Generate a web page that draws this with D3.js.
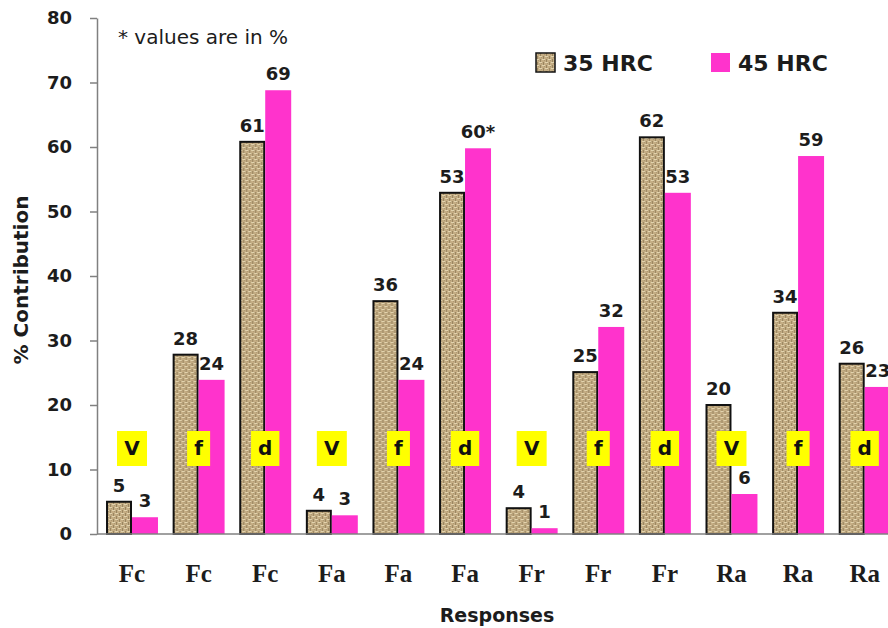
<!DOCTYPE html>
<html>
<head>
<meta charset="utf-8">
<script src="https://cdn.jsdelivr.net/npm/d3@7"></script>
<style>
  body { margin: 0; background: #fff; }
  svg { display: block; }
</style>
</head>
<body>
<div id="chart"></div>
<script>
// Datos
const responses = ['Fc', 'Fc', 'Fc', 'Fa', 'Fa', 'Fa', 'Fr', 'Fr', 'Fr', 'Ra', 'Ra', 'Ra']
const factors = ['V', 'f', 'd', 'V', 'f', 'd', 'V', 'f', 'd', 'V', 'f', 'd']
const hrc35 = [5, 27.8, 60.8, 3.6, 36.1, 52.9, 4, 25.1, 61.5, 20, 34.3, 26.4]
const hrc45 = [2.6, 23.9, 68.8, 2.9, 23.9, 59.8, 0.9, 32.1, 52.9, 6.2, 58.6, 22.8]
const labels35 = ['5', '28', '61', '4', '36', '53', '4', '25', '62', '20', '34', '26']
const labels45 = ['3', '24', '69', '3', '24', '60*', '1', '32', '53', '6', '59', '23']
const series = ['35 HRC', '45 HRC']
const yTicks = [0, 10, 20, 30, 40, 50, 60, 70, 80]

const width = 888, height = 628
const pink = '#ff33cc'
const textColor = '#1c1c1c'

const svg = d3.select('#chart').append('svg')
  .attr('width', width)
  .attr('height', height)

// Textura de arpillera para la serie 35 HRC
const defs = svg.append('defs')
const pat = defs.append('pattern')
  .attr('id', 'burlap')
  .attr('patternUnits', 'userSpaceOnUse')
  .attr('width', 6).attr('height', 6)
pat.append('rect').attr('width', 6).attr('height', 6).attr('fill', '#c4ad84')
pat.append('rect').attr('x', 0).attr('y', 0).attr('width', 3).attr('height', 1).attr('fill', '#e2d3ae')
pat.append('rect').attr('x', 3).attr('y', 3).attr('width', 3).attr('height', 1).attr('fill', '#e2d3ae')
pat.append('rect').attr('x', 4).attr('y', 0).attr('width', 1).attr('height', 3).attr('fill', '#98845f')
pat.append('rect').attr('x', 1).attr('y', 3).attr('width', 1).attr('height', 3).attr('fill', '#98845f')
pat.append('rect').attr('x', 2).attr('y', 1).attr('width', 1).attr('height', 1).attr('fill', '#ab9670')
pat.append('rect').attr('x', 5).attr('y', 4).attr('width', 1).attr('height', 1).attr('fill', '#ab9670')

// Escalas
const x = d3.scaleBand()
  .domain(d3.range(responses.length))
  .range([98.7, 898])
  .paddingInner(0.22)
  .paddingOuter(0.11)

const xs = d3.scaleBand()
  .domain(series)
  .range([0, x.bandwidth()])

const y = d3.scaleLinear()
  .domain([0, 80])
  .range([534, 18])

// Eje y
const yAxis = svg.append('g')
  .attr('transform', 'translate(97,0)')
  .call(d3.axisLeft(y).tickValues(yTicks).tickSize(7).tickPadding(18).tickSizeOuter(0))
yAxis.select('.domain').attr('stroke', '#808080').attr('stroke-width', 1.5)
yAxis.selectAll('.tick line').attr('stroke', '#808080').attr('stroke-width', 1.5)
yAxis.selectAll('.tick text')
  .attr('font-family', 'DejaVu Sans')
  .attr('font-weight', 'bold')
  .attr('font-size', 18)
  .attr('fill', textColor)

// Barras
const groups = svg.selectAll('.group')
  .data(d3.range(responses.length))
  .enter()
  .append('g')
  .attr('class', 'group')
  .attr('transform', i => `translate(${x(i)},0)`)

groups.append('rect')
  .attr('x', xs(series[0]) + 1)
  .attr('y', i => y(hrc35[i]))
  .attr('width', xs.bandwidth() - 2)
  .attr('height', i => y(0) - y(hrc35[i]))
  .attr('fill', 'url(#burlap)')
  .attr('stroke', '#111')
  .attr('stroke-width', 2)

groups.append('rect')
  .attr('x', xs(series[1]))
  .attr('y', i => y(hrc45[i]))
  .attr('width', xs.bandwidth())
  .attr('height', i => y(0) - y(hrc45[i]))
  .attr('fill', pink)

// Eje x (solo la linea)
svg.append('line')
  .attr('x1', 97).attr('x2', width)
  .attr('y1', y(0)).attr('y2', y(0))
  .attr('stroke', '#808080')
  .attr('stroke-width', 1.5)

// Etiquetas de valor
const valueLabel = (sel, cx, val, txt) => {
  sel.append('text')
    .attr('x', cx)
    .attr('y', i => y(val[i]) - 10)
    .attr('text-anchor', 'middle')
    .attr('font-family', 'DejaVu Sans')
    .attr('font-weight', 'bold')
    .attr('font-size', 18)
    .attr('fill', textColor)
    .text(i => txt[i])
}
valueLabel(groups, xs(series[0]) + xs.bandwidth() / 2, hrc35, labels35)
valueLabel(groups, xs(series[1]) + xs.bandwidth() / 2, hrc45, labels45)

// Cajas amarillas con el factor
const boxes = groups.append('g')
  .attr('transform', `translate(${x.bandwidth() / 2},448)`)
boxes.append('rect').attr('fill', '#ffff00')
const boxTexts = boxes.append('text')
  .attr('text-anchor', 'middle')
  .attr('dy', '0.36em')
  .attr('font-family', 'DejaVu Sans')
  .attr('font-weight', 'bold')
  .attr('font-size', 20)
  .attr('fill', '#111')
  .text(i => factors[i])
boxTexts.each(function (d) {
  const w = this.getBBox().width + 14
  d3.select(this.parentNode).select('rect')
    .attr('x', -w / 2).attr('y', -17)
    .attr('width', w).attr('height', 35)
})

// Etiquetas del eje x
groups.append('text')
  .attr('x', x.bandwidth() / 2)
  .attr('y', 582)
  .attr('text-anchor', 'middle')
  .attr('font-family', 'Liberation Serif')
  .attr('font-weight', 'bold')
  .attr('font-size', 25)
  .attr('fill', textColor)
  .text(i => responses[i])

// Titulos de ejes
svg.append('text')
  .attr('transform', 'translate(28,280) rotate(-90)')
  .attr('text-anchor', 'middle')
  .attr('font-family', 'DejaVu Sans')
  .attr('font-weight', 'bold')
  .attr('font-size', 20)
  .attr('fill', textColor)
  .text('%  Contribution')

svg.append('text')
  .attr('x', 497)
  .attr('y', 622)
  .attr('text-anchor', 'middle')
  .attr('font-family', 'DejaVu Sans')
  .attr('font-weight', 'bold')
  .attr('font-size', 19)
  .attr('fill', textColor)
  .text('Responses')

// Nota
svg.append('text')
  .attr('x', 118)
  .attr('y', 44)
  .attr('font-family', 'DejaVu Sans')
  .attr('font-size', 20)
  .attr('fill', textColor)
  .text('* values are in %')

// Leyenda
const legendX = [536, 711]
const legend = svg.selectAll('.legend')
  .data(series)
  .enter()
  .append('g')
  .attr('class', 'legend')
  .attr('transform', (d, i) => `translate(${legendX[i]},53)`)

legend.append('rect')
  .attr('width', 19).attr('height', 19)
  .attr('fill', (d, i) => i === 0 ? 'url(#burlap)' : pink)
  .attr('stroke', (d, i) => i === 0 ? '#111' : 'none')
  .attr('stroke-width', 1.5)

legend.append('text')
  .attr('x', 27)
  .attr('y', 18)
  .attr('font-family', 'DejaVu Sans')
  .attr('font-weight', 'bold')
  .attr('font-size', 22)
  .attr('fill', textColor)
  .text(d => d)
</script>
</body>
</html>
